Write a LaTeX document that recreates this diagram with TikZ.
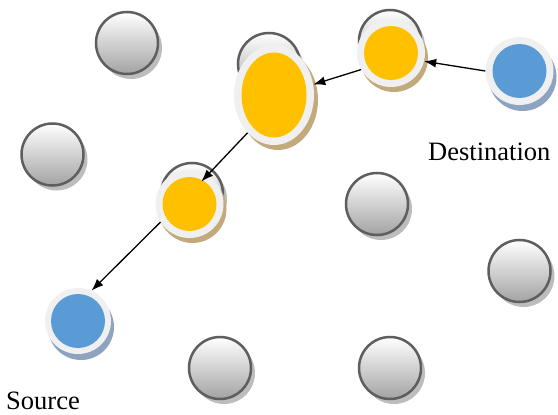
\documentclass[tikz,border=0pt]{standalone}
\usepackage{fontspec}
\setmainfont{Liberation Serif}
\usetikzlibrary{shapes.geometric,arrows.meta,shadows}
\definecolor{rim}{HTML}{5E5E5E}
\definecolor{shadegray}{HTML}{A3A3A3}
\definecolor{graydrop}{HTML}{BDBDBD}
\definecolor{ringfill}{HTML}{F0F0F0}
\definecolor{gold}{HTML}{FFC000}
\definecolor{golddrop}{HTML}{C2AA7C}
\definecolor{skyblue}{HTML}{5B9BD5}
\definecolor{bluedrop}{HTML}{8EA3BF}
\begin{document}
\begin{tikzpicture}[x=1pt,y=-1pt,
  idle/.style={circle, minimum size=62pt, inner sep=0pt, draw=rim, line width=2.5pt,
    top color=white, bottom color=shadegray,
    drop shadow={shadow xshift=4pt, shadow yshift=-5pt, fill=graydrop, opacity=1}},
  ring/.style={circle, minimum size=68pt, inner sep=0pt, fill=ringfill},
  goldring/.style={ring, drop shadow={shadow xshift=3pt, shadow yshift=-5pt, fill=golddrop, opacity=1},
    path picture={\fill[gold] (path picture bounding box.center) circle (27pt);}},
  bluering/.style={ring, drop shadow={shadow xshift=3pt, shadow yshift=-6pt, fill=bluedrop, opacity=1},
    path picture={\fill[skyblue] (path picture bounding box.center) circle (27pt);}},
  hop/.style={-{Latex[length=12pt,width=9pt]}, line width=1.3pt},
  label/.style={inner sep=0pt, font=\fontsize{26.5}{30}\selectfont}]
\useasboundingbox (0,0) rectangle (558,415);

% idle relay nodes
\node[idle] (g1) at (127,43) {};
\node[idle] (g2) at (52.5,154.5) {};
\node[idle] (g3) at (269,64) {};
\node[idle] (g4) at (390,41) {};
\node[idle] (g5) at (192,194) {};
\node[idle] (g6) at (377,204) {};
\node[idle] (g7) at (519.5,271) {};
\node[idle] (g8) at (220,368) {};
\node[idle] (g9) at (390,368) {};

% nodes on the route
\node[goldring] (ytop) at (391,53) {};
\node[ellipse, minimum width=80pt, minimum height=100pt, inner sep=0pt, fill=ringfill,
  drop shadow={shadow xshift=4pt, shadow yshift=-5pt, fill=golddrop, opacity=1},
  path picture={\fill[gold] (path picture bounding box.center) ellipse (32.5pt and 42.5pt);}]
  (big) at (274,95) {};
\node[goldring] (ymid) at (189.5,204) {};
\node[bluering] (dest) at (519.5,71) {};
\node[bluering, minimum size=66pt] (src) at (78,321) {};

% route arrows
\draw[hop] (dest.180) -- (ytop.-14);
\draw[hop] (ytop.209) -- (big.15);
\draw[hop, shorten >=-9pt] (big.235.6) -- (ymid.58);
\draw[hop] (ymid.212) -- (src.66);

% labels
\node[label, anchor=base west] (dlabel) at (428,160) {Destination};
\node[label, anchor=base west] (slabel) at (6,409) {Source};
\end{tikzpicture}
\end{document}
